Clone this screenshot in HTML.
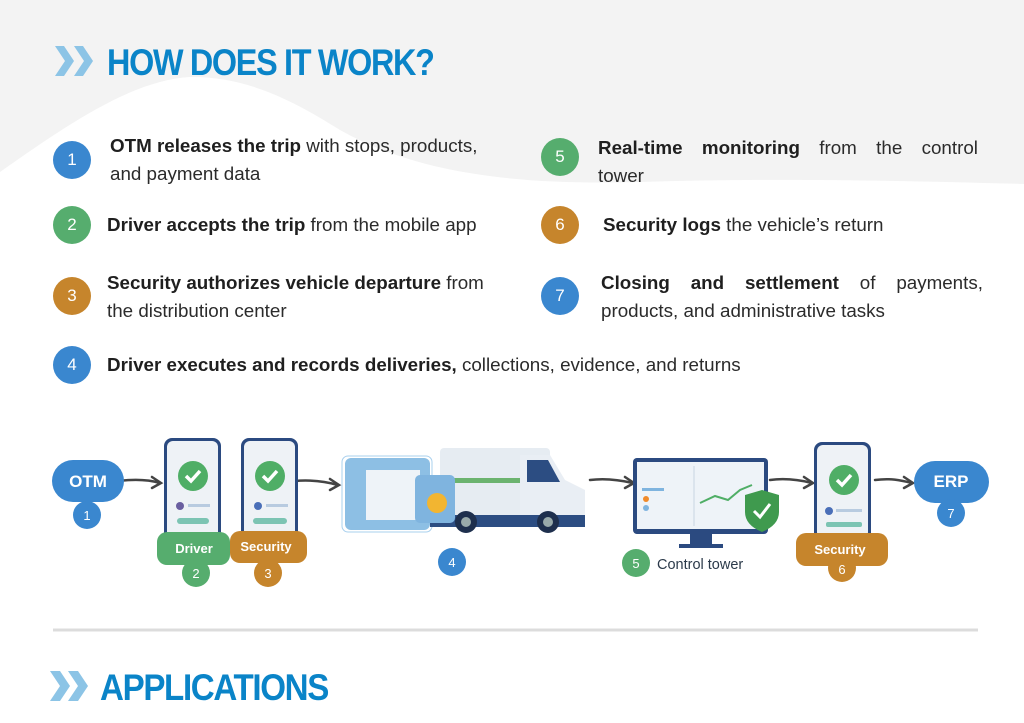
<!DOCTYPE html>
<html><head><meta charset="utf-8"><style>
html,body{margin:0;padding:0}
body{width:1024px;height:723px;position:relative;overflow:hidden;background:#fff;font-family:"Liberation Sans",sans-serif;color:#2b2b2b}
.abs{position:absolute}
.title{position:absolute;font-weight:bold;color:#0a84c8;font-size:37px;letter-spacing:-1.5px;transform-origin:left top;white-space:nowrap;line-height:1}
.c{position:absolute;width:38px;height:38px;border-radius:50%;color:#fff;font-size:17px;text-align:center;line-height:38px}
.b{background:#3a87cf}.g{background:#56ad6e}.o{background:#c6852c}
.t{position:absolute;font-size:18.8px;line-height:28px;color:#2b2b2b;white-space:nowrap}
.t b{color:#1f1f1f}
.row{display:flex;justify-content:space-between}
</style></head><body>
<svg class="abs" style="left:0;top:0" width="1024" height="723">
<rect x="0" y="0" width="1024" height="200" fill="#f3f3f3"/>
<path d="M0,172 C60,130 130,80 190,77 C250,76 300,105 340,130 C420,175 520,185 640,182 C760,178 880,180 1024,184 L1024,723 L0,723 Z" fill="#fff"/>
<g fill="#8cc4e6">
<path d="M55,46 L64,46 L74,61 L64,76 L55,76 L65,61 Z"/>
<path d="M74,46 L83,46 L93,61 L83,76 L74,76 L84,61 Z"/>
<path d="M50,671 L60,671 L70,686 L60,701 L50,701 L60,686 Z"/>
<path d="M68,671 L78,671 L88,686 L78,701 L68,701 L78,686 Z"/>
</g>
<line x1="53" y1="630" x2="978" y2="630" stroke="#dcdcdc" stroke-width="3"/>
<g stroke="#444" stroke-width="2.5" fill="none" stroke-linecap="round">
<path d="M118,481 C135,479 150,480 160,483"/><path d="M152,477 L161,483 L152,488"/>
<path d="M284,483 C300,479 320,480 338,485"/><path d="M330,479 L339,485 L330,490"/>
<path d="M590,480 C605,478 620,480 633,483"/><path d="M625,477 L634,483 L625,488"/>
<path d="M770,480 C785,478 800,480 812,483"/><path d="M804,477 L813,483 L804,488"/>
<path d="M875,480 C890,478 900,480 912,483"/><path d="M904,477 L913,483 L904,488"/>
</g>
<g>
<rect x="164" y="438" width="57" height="103" rx="8" fill="#2b4a80"/>
<rect x="167" y="441" width="51" height="97" rx="6" fill="#eef2f6"/>
<circle cx="193" cy="476" r="15" fill="#4fae66"/>
<path d="M186,476 L191,481 L200,471" stroke="#fff" stroke-width="3.5" fill="none"/>
<rect x="177" y="518" width="32" height="6" rx="3" fill="#7cc4b3"/>
<circle cx="180" cy="506" r="4" fill="#6a5fa0"/><rect x="188" y="504" width="22" height="3" fill="#b8cbe0"/>
<rect x="241" y="438" width="57" height="103" rx="8" fill="#2b4a80"/>
<rect x="244" y="441" width="51" height="97" rx="6" fill="#eef2f6"/>
<circle cx="270" cy="476" r="15" fill="#4fae66"/>
<path d="M263,476 L268,481 L277,471" stroke="#fff" stroke-width="3.5" fill="none"/>
<rect x="253" y="518" width="34" height="6" rx="3" fill="#7cc4b3"/>
<circle cx="258" cy="506" r="4" fill="#4a6fb8"/><rect x="266" y="504" width="22" height="3" fill="#b8cbe0"/>
<rect x="814" y="442" width="57" height="99" rx="8" fill="#2b4a80"/>
<rect x="817" y="445" width="51" height="93" rx="6" fill="#eef2f6"/>
<circle cx="844" cy="480" r="15" fill="#4fae66"/>
<path d="M837,480 L842,485 L851,475" stroke="#fff" stroke-width="3.5" fill="none"/>
<circle cx="829" cy="511" r="4" fill="#4a6fb8"/><rect x="836" y="509" width="26" height="3" fill="#b8cbe0"/>
<rect x="826" y="522" width="36" height="5" rx="2" fill="#7cc4b3"/>
</g>
<g>
<rect x="345" y="458" width="85" height="72" rx="6" fill="#8dbfe4"/>
<rect x="342" y="456" width="90" height="76" rx="6" fill="none" stroke="#a9d0ee"/>
<rect x="440" y="448" width="110" height="70" rx="4" fill="#e6ecf2"/>
<rect x="440" y="478" width="110" height="5" fill="#6bb36f"/>
<path d="M520,455 L550,455 L565,480 L585,490 L585,520 L520,520 Z" fill="#e9eef4"/>
<path d="M527,460 L548,460 L560,482 L527,482 Z" fill="#2c4d82"/>
<rect x="430" y="515" width="155" height="12" fill="#2c4d82"/>
<circle cx="466" cy="522" r="11" fill="#1e2f4d"/><circle cx="466" cy="522" r="5" fill="#9aa"/>
<circle cx="548" cy="522" r="11" fill="#1e2f4d"/><circle cx="548" cy="522" r="5" fill="#9aa"/>
<rect x="366" y="470" width="54" height="50" fill="#eef3f8"/>
<rect x="415" y="475" width="40" height="48" rx="5" fill="#7fb4df"/>
<circle cx="437" cy="503" r="10" fill="#f2b531"/>
</g>
<g>
<rect x="633" y="458" width="135" height="76" rx="4" fill="#2b4a80"/>
<rect x="637" y="462" width="127" height="67" fill="#eef3f8"/>
<line x1="694" y1="466" x2="694" y2="526" stroke="#c8d4e2"/>
<rect x="642" y="488" width="22" height="3" fill="#7fb4df"/>
<circle cx="646" cy="499" r="3" fill="#f08a2a"/><circle cx="646" cy="508" r="3" fill="#7fb4df"/>
<path d="M700,503 L715,496 L728,500 L740,490 L752,485" stroke="#4fae66" stroke-width="2" fill="none"/>
<rect x="690" y="534" width="22" height="10" fill="#2b4a80"/>
<rect x="679" y="544" width="44" height="4" fill="#2b4a80"/>
<path d="M745,495 L762,490 L779,495 L779,512 Q779,525 762,532 Q745,525 745,512 Z" fill="#3f9a4e"/>
<path d="M754,511 L760,517 L770,504" stroke="#fff" stroke-width="3" fill="none"/>
</g>
<rect x="52" y="460" width="72" height="42" rx="21" fill="#3a87cf"/>
<circle cx="87" cy="515" r="14" fill="#3a87cf"/>
<rect x="157" y="532" width="73" height="33" rx="10" fill="#56ad6e"/>
<circle cx="196" cy="573" r="14" fill="#56ad6e"/>
<rect x="230" y="531" width="77" height="32" rx="10" fill="#c6852c"/>
<circle cx="268" cy="573" r="14" fill="#c6852c"/>
<circle cx="452" cy="562" r="14" fill="#3a87cf"/>
<circle cx="636" cy="563" r="14" fill="#56ad6e"/>
<rect x="796" y="533" width="92" height="33" rx="10" fill="#c6852c"/>
<circle cx="842" cy="568" r="14" fill="#c6852c"/>
<rect x="914" y="461" width="75" height="42" rx="21" fill="#3a87cf"/>
<circle cx="951" cy="513" r="14" fill="#3a87cf"/>
<g font-family="Liberation Sans, sans-serif" fill="#fff" text-anchor="middle">
<text x="88" y="487" font-size="17" font-weight="bold">OTM</text>
<text x="87" y="520" font-size="13">1</text>
<text x="194" y="553" font-size="13" font-weight="bold">Driver</text>
<text x="196" y="578" font-size="13">2</text>
<text x="266" y="551" font-size="13" font-weight="bold">Security</text>
<text x="268" y="578" font-size="13">3</text>
<text x="452" y="567" font-size="13">4</text>
<text x="636" y="568" font-size="13">5</text>
<text x="840" y="554" font-size="13" font-weight="bold">Security</text>
<text x="842" y="574" font-size="13">6</text>
<text x="951" y="487" font-size="17" font-weight="bold">ERP</text>
<text x="951" y="518" font-size="13">7</text>
</g>
<text x="657" y="569" font-family="Liberation Sans, sans-serif" font-size="14.5" fill="#2b3a4a">Control tower</text>
</svg>
<div class="title" style="left:107px;top:44px;transform:scaleX(0.875)">HOW DOES IT WORK?</div>
<div class="title" style="left:100px;top:669px;transform:scaleX(0.895)">APPLICATIONS</div>

<div class="c b" style="left:53px;top:141px">1</div>
<div class="t" style="left:110px;top:132px"><b>OTM releases the trip</b> with stops, products,<br>and payment data</div>
<div class="c g" style="left:53px;top:206px">2</div>
<div class="t" style="left:107px;top:211px"><b>Driver accepts the trip</b> from the mobile app</div>
<div class="c o" style="left:53px;top:277px">3</div>
<div class="t" style="left:107px;top:269px"><b>Security authorizes vehicle departure</b> from<br>the distribution center</div>
<div class="c b" style="left:53px;top:346px">4</div>
<div class="t" style="left:107px;top:351px"><b>Driver executes and records deliveries,</b> collections, evidence, and returns</div>

<div class="c g" style="left:541px;top:138px">5</div>
<div class="t" style="left:598px;top:134px;width:380px"><div class="row"><b>Real-time</b><b>monitoring</b><span>from</span><span>the</span><span>control</span></div>tower</div>
<div class="c o" style="left:541px;top:206px">6</div>
<div class="t" style="left:603px;top:211px"><b>Security logs</b> the vehicle’s return</div>
<div class="c b" style="left:541px;top:277px">7</div>
<div class="t" style="left:601px;top:269px;width:382px"><div class="row"><b>Closing</b><b>and</b><b>settlement</b><span>of</span><span>payments,</span></div>products, and administrative tasks</div>
</body></html>
